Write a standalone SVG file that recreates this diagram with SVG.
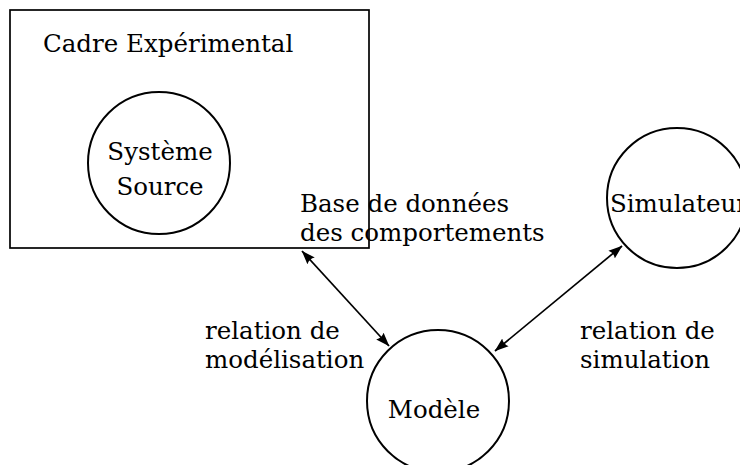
<svg xmlns="http://www.w3.org/2000/svg" width="740" height="465" viewBox="0 0 740 465">
<style>
text{font-family:'DejaVu Serif','Liberation Serif',serif;font-size:24.5px;fill:#000}
.m{text-anchor:middle}
.s{fill:none;stroke:#000;stroke-width:1.7}
.c{fill:#fff;stroke:#000;stroke-width:2}
.a{stroke:#000;stroke-width:1.7;fill:none;marker-start:url(#ah);marker-end:url(#ah)}
</style>
<defs>
<marker id="ah" markerUnits="userSpaceOnUse" viewBox="0 0 14 11" refX="13.5" refY="5.5" markerWidth="14" markerHeight="11" orient="auto-start-reverse">
<path d="M14,5.5 L0,0.5 Q3,5.5 0,10.5 Z" fill="#000"/>
</marker>
</defs>
<rect width="740" height="465" fill="#fff"/>
<g id="cadre">
<rect x="10" y="10" width="359" height="238" class="s"/>
<text x="43" y="52">Cadre Expérimental</text>
</g>
<g id="systeme-source">
<circle cx="159" cy="163" r="71" class="c"/>
<text x="160" y="160" class="m">Système</text>
<text x="160" y="195" class="m">Source</text>
</g>
<g id="base-donnees">
<text x="300" y="212">Base de données</text>
<text x="300" y="241">des comportements</text>
</g>
<g id="simulateur">
<circle cx="677" cy="198" r="70" class="c" fill-opacity="0"/>
<text x="610" y="212">Simulateur</text>
</g>
<g id="modele">
<circle cx="438" cy="401" r="71" class="c"/>
<text x="434" y="418" class="m">Modèle</text>
</g>
<g id="label-modelisation">
<text x="205" y="339">relation de</text>
<text x="205" y="368">modélisation</text>
</g>
<g id="label-simulation">
<text x="580" y="339">relation de</text>
<text x="580" y="368">simulation</text>
</g>
<g id="connectors">
<line x1="302" y1="251" x2="389" y2="346" class="a"/>
<line x1="495" y1="351" x2="622" y2="246" class="a"/>
</g>
</svg>
